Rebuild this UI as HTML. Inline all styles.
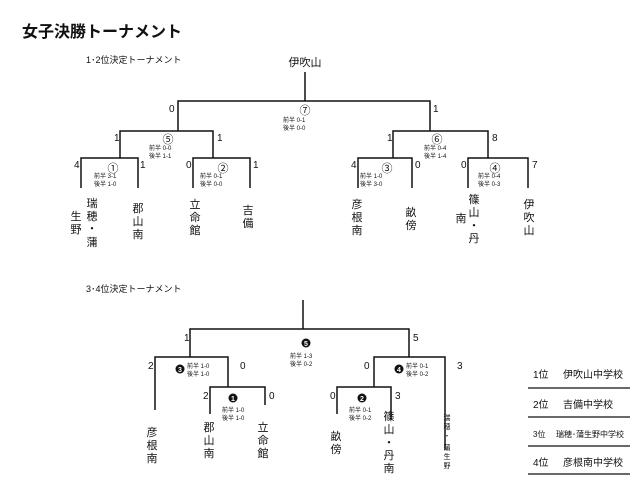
<!DOCTYPE html>
<html><head><meta charset="utf-8"><style>
html,body{margin:0;padding:0;background:#fff}
svg{display:block}
text{font-family:"Liberation Sans","Noto Sans CJK JP",sans-serif;fill:#111}
.s{font-size:6px}
.n{font-size:10px}
.j{font-family:"Noto Serif CJK SC","Liberation Serif",serif;font-size:11px}
.c{font-size:11px}
</style></head><body>
<svg width="640" height="500" viewBox="0 0 640 500" xmlns="http://www.w3.org/2000/svg">
<text x="22" y="37" style="font-size:16px;font-weight:bold">女子決勝トーナメント</text>
<text x="86" y="63" style="font-size:9px">1･2位決定トーナメント</text>
<text x="86" y="292" style="font-size:9px">3･4位決定トーナメント</text>
<text x="305" y="66" text-anchor="middle" style="font-size:11px">伊吹山</text>

<g stroke="#111" stroke-width="1.5" fill="none">
<path d="M305 72V101M178 131V101H430V131"/>
<path d="M120 158V131H213V158"/>
<path d="M81 188V158H138V188M193 188V158H250V188"/>
<path d="M393 158V131H488V158"/>
<path d="M358 188V158H412V188M468 188V158H528V188"/>
<path d="M303 300V329M190 357V329H409V357"/>
<path d="M155 410V357H228V387M210 414V387H265V405"/>
<path d="M374 387V357H445V450M337 414V387H391V420"/>
</g>
<g stroke="#111" stroke-width="1.2">
<line x1="528" y1="388" x2="630" y2="388"/><line x1="528" y1="417" x2="630" y2="417"/>
<line x1="528" y1="446" x2="630" y2="446"/><line x1="528" y1="474" x2="630" y2="474"/>
</g>

<!-- scores top -->
<g class="n">
<text x="169" y="112">0</text><text x="433" y="112">1</text>
<text x="114" y="141">1</text><text x="217" y="141">1</text>
<text x="74" y="168">4</text><text x="140" y="168">1</text>
<text x="186" y="168">0</text><text x="253" y="168">1</text>
<text x="387" y="141">1</text><text x="492" y="141">8</text>
<text x="351" y="168">4</text><text x="415" y="168">0</text>
<text x="461" y="168">0</text><text x="532" y="168">7</text>
</g>
<g class="c">
<text x="305" y="114" text-anchor="middle">⑦</text>
<text x="168" y="143" text-anchor="middle">⑤</text>
<text x="113" y="172" text-anchor="middle">①</text>
<text x="223" y="172" text-anchor="middle">②</text>
<text x="437" y="143" text-anchor="middle">⑥</text>
<text x="387" y="172" text-anchor="middle">③</text>
<text x="495" y="172" text-anchor="middle">④</text>
</g>
<g class="s">
<text x="283" y="122">前半 0-1</text><text x="283" y="130">後半 0-0</text>
<text x="149" y="150">前半 0-0</text><text x="149" y="158">後半 1-1</text>
<text x="94" y="178">前半 3-1</text><text x="94" y="186">後半 1-0</text>
<text x="200" y="178">前半 0-1</text><text x="200" y="186">後半 0-0</text>
<text x="424" y="150">前半 0-4</text><text x="424" y="158">後半 1-4</text>
<text x="360" y="178">前半 1-0</text><text x="360" y="186">後半 3-0</text>
<text x="478" y="178">前半 0-4</text><text x="478" y="186">後半 0-3</text>
</g>
<!-- names top -->
<g class="j" text-anchor="middle">
<text x="92" y="207">瑞</text><text x="92" y="220">穂</text><text x="92" y="232">・</text><text x="92" y="246">蒲</text>
<text x="76" y="220">生</text><text x="76" y="233">野</text>
<text x="138" y="212">郡</text><text x="138" y="225">山</text><text x="138" y="238">南</text>
<text x="195" y="208">立</text><text x="195" y="221">命</text><text x="195" y="234">館</text>
<text x="248" y="214">吉</text><text x="248" y="227">備</text>
<text x="357" y="208">彦</text><text x="357" y="221">根</text><text x="357" y="234">南</text>
<text x="411" y="216">畝</text><text x="411" y="229">傍</text>
<text x="474" y="203">篠</text><text x="474" y="216">山</text><text x="474" y="229">・</text><text x="474" y="242">丹</text>
<text x="461" y="222">南</text>
<text x="529" y="208">伊</text><text x="529" y="221">吹</text><text x="529" y="234">山</text>
</g>

<!-- bottom scores -->
<g class="n">
<text x="184" y="341">1</text><text x="413" y="341">5</text>
<text x="148" y="369">2</text><text x="240" y="369">0</text>
<text x="203" y="399">2</text><text x="269" y="399">0</text>
<text x="364" y="369">0</text><text x="457" y="369">3</text>
<text x="330" y="399">0</text><text x="395" y="399">3</text>
</g>
<g>
<circle cx="306" cy="343" r="4.5" fill="#111"/><text x="306" y="346" text-anchor="middle" style="font-size:7px;fill:#fff;font-weight:bold">5</text>
<circle cx="180" cy="369" r="4.5" fill="#111"/><text x="180" y="372" text-anchor="middle" style="font-size:7px;fill:#fff;font-weight:bold">3</text>
<circle cx="233" cy="398" r="4.5" fill="#111"/><text x="233" y="401" text-anchor="middle" style="font-size:7px;fill:#fff;font-weight:bold">1</text>
<circle cx="362" cy="398" r="4.5" fill="#111"/><text x="362" y="401" text-anchor="middle" style="font-size:7px;fill:#fff;font-weight:bold">2</text>
<circle cx="399" cy="369" r="4.5" fill="#111"/><text x="399" y="372" text-anchor="middle" style="font-size:7px;fill:#fff;font-weight:bold">4</text>
</g>
<g class="s">
<text x="290" y="358">前半 1-3</text><text x="290" y="366">後半 0-2</text>
<text x="187" y="368">前半 1-0</text><text x="187" y="376">後半 1-0</text>
<text x="222" y="412">前半 1-0</text><text x="222" y="420">後半 1-0</text>
<text x="349" y="412">前半 0-1</text><text x="349" y="420">後半 0-2</text>
<text x="406" y="368">前半 0-1</text><text x="406" y="376">後半 0-2</text>
</g>
<g class="j" text-anchor="middle">
<text x="152" y="436">彦</text><text x="152" y="449">根</text><text x="152" y="462">南</text>
<text x="209" y="431">郡</text><text x="209" y="444">山</text><text x="209" y="457">南</text>
<text x="263" y="431">立</text><text x="263" y="444">命</text><text x="263" y="457">館</text>
<text x="336" y="440">畝</text><text x="336" y="453">傍</text>
<text x="389" y="420">篠</text><text x="389" y="433">山</text><text x="389" y="446">・</text><text x="389" y="459">丹</text><text x="389" y="472">南</text>
</g>
<g style="font-size:7px" text-anchor="middle">
<text x="447" y="420">瑞</text><text x="447" y="429">穂</text><text x="447" y="438">・</text><text x="447" y="450">蒲</text><text x="447" y="459">生</text><text x="447" y="468">野</text>
</g>

<!-- legend -->
<g style="font-size:10px">
<text x="533" y="378">1位</text><text x="563" y="378">伊吹山中学校</text>
<text x="533" y="408">2位</text><text x="563" y="408">吉備中学校</text>
<text x="533" y="437" style="font-size:8px">3位</text><text x="556" y="437" style="font-size:8px">瑞穂･蒲生野中学校</text>
<text x="533" y="466">4位</text><text x="563" y="466">彦根南中学校</text>
</g>
</svg>
</body></html>
